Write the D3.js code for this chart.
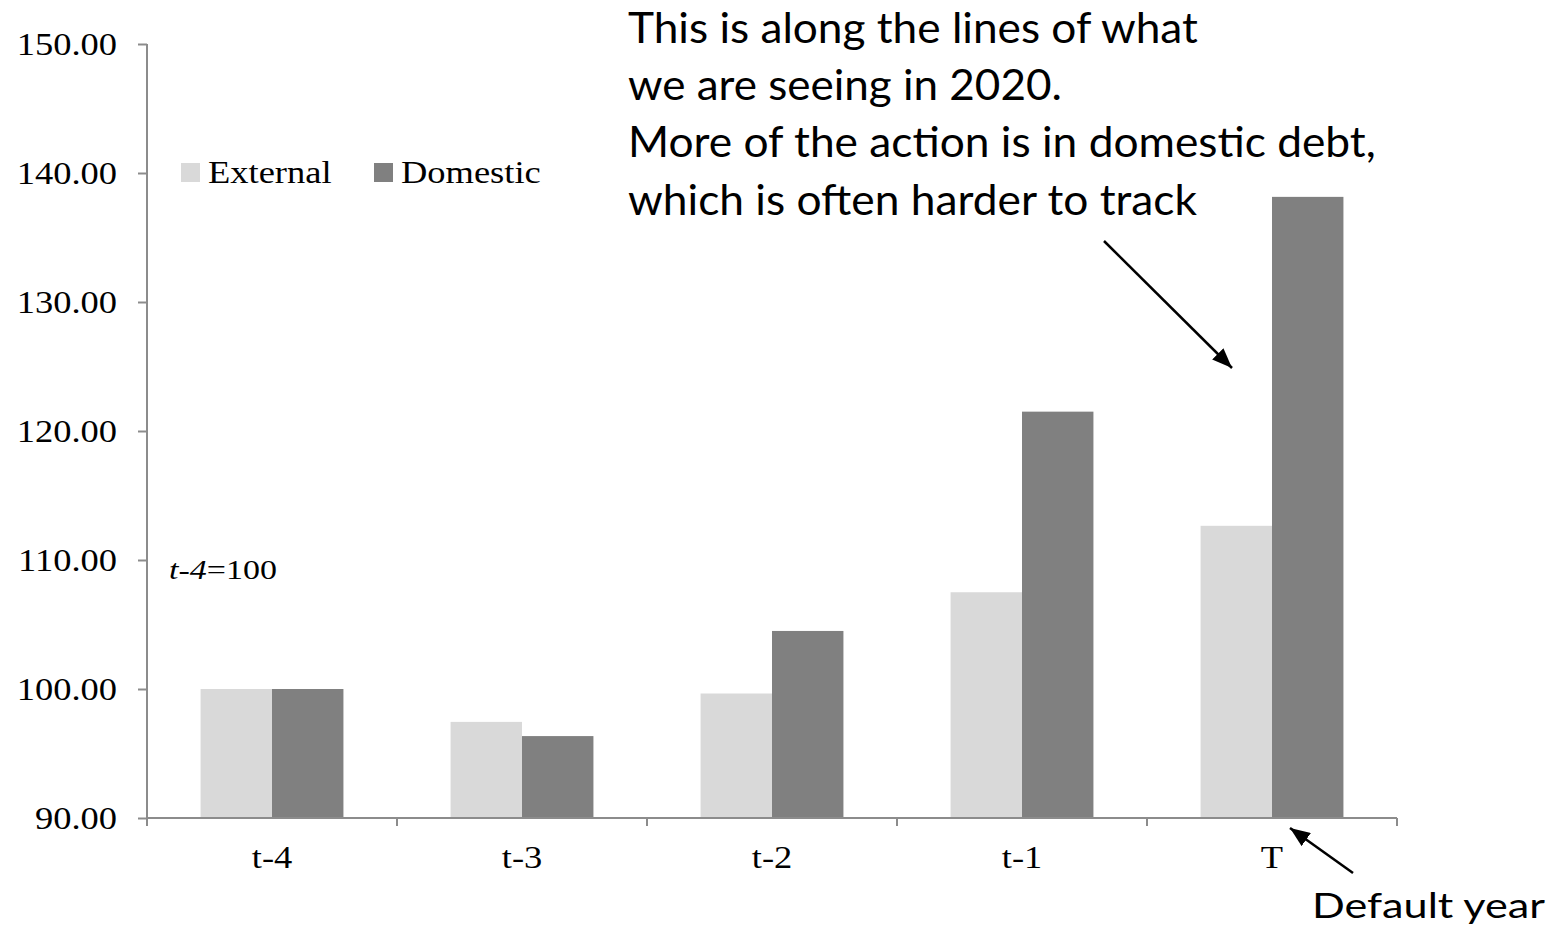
<!DOCTYPE html>
<html><head><meta charset="utf-8">
<script src="https://cdn.jsdelivr.net/npm/d3@7"></script>
<style>body{margin:0;background:#fff} svg{display:block}</style>
</head><body><svg id="c" width="1560" height="928"></svg>
<script>
// ---- data ----
const categories = ["t-4", "t-3", "t-2", "t-1", "T"];
const seriesNames = ["External", "Domestic"];
const externalValues = [100.00, 97.45, 99.65, 107.50, 112.65];
const domesticValues = [100.00, 96.35, 104.50, 121.50, 138.15];
const yTickValues = [90, 100, 110, 120, 130, 140, 150];
const noteLines = [
  "This is along the lines of what",
  "we are seeing in 2020.",
  "More of the action is in domestic debt,",
  "which is often harder to track"
];
const baseNote = ["t-4", "=100"];
const defaultNote = "Default year";

(function () {
// ---- styles / layout ----
const seriesColors = ["#d9d9d9", "#808080"];
const axisColor = "#8c8c8c";
const serif = "'Liberation Serif','Times New Roman',serif";
const sans = "Lato,'Open Sans',sans-serif";
const SX = 1.14; // horizontal stretch of the original picture

const svg = d3.select("#c");
const defs = svg.append("defs");
defs.append("marker").attr("id", "ah")
  .attr("markerUnits", "userSpaceOnUse")
  .attr("viewBox", "0 0 20 16").attr("markerWidth", 20).attr("markerHeight", 16)
  .attr("refX", 20).attr("refY", 8).attr("orient", "auto")
  .append("path").attr("d", "M0,0 L20,8 L0,16 Z").attr("fill", "#000");

const pL = 147, pR = 1397, pT = 44, pB = 818;
const x = d3.scaleBand().domain(categories).range([pL, pR]).paddingInner(0).paddingOuter(0);
const x1 = d3.scaleBand().domain(seriesNames).range([0, x.bandwidth()]).paddingInner(0).paddingOuter(0.75);
const y = d3.scaleLinear().domain([90, 150]).range([pB, pT]);

const rows = categories.map((c, i) => ({cat: c, vals: [externalValues[i], domesticValues[i]]}));

// bars
const g = svg.append("g");
rows.forEach(r => {
  r.vals.forEach((v, j) => {
    g.append("rect")
      .attr("x", x(r.cat) + x1(seriesNames[j]))
      .attr("width", x1.bandwidth())
      .attr("y", y(v))
      .attr("height", y(90) - y(v))
      .attr("fill", seriesColors[j]);
  });
});

function stretchText(t, sx) {
  const tx = +t.attr("x") || 0, ty = +t.attr("y") || 0;
  t.attr("x", 0).attr("y", 0).attr("transform", `translate(${tx},${ty}) scale(${sx},1)`);
}

// y axis
const yAxis = svg.append("g").attr("transform", `translate(${pL},0)`)
  .call(d3.axisLeft(y).tickValues(yTickValues).tickFormat(d3.format(".2f")).tickSize(9).tickPadding(21));
yAxis.select(".domain").attr("stroke", axisColor).attr("stroke-width", 2).attr("d", `M0,${pT}V${pB + 8}`);
yAxis.selectAll(".tick line").attr("stroke", axisColor).attr("stroke-width", 2);
yAxis.selectAll(".tick text")
  .attr("font-family", serif).attr("font-size", 32).attr("fill", "#000").attr("dy", "0.34em")
  .each(function () {
    const t = d3.select(this);
    t.attr("transform", `translate(${t.attr("x")},0) scale(${SX},1)`).attr("x", 0);
  });

// x axis (ticks at band boundaries)
const xAxis = svg.append("g");
xAxis.append("line").attr("x1", pL).attr("x2", pR).attr("y1", pB).attr("y2", pB)
  .attr("stroke", axisColor).attr("stroke-width", 2);
const boundaries = categories.map(c => x(c)).concat([x.range()[1]]);
xAxis.selectAll("line.tk").data(boundaries).join("line").attr("class", "tk")
  .attr("x1", d => d).attr("x2", d => d).attr("y1", pB).attr("y2", pB + 8)
  .attr("stroke", axisColor).attr("stroke-width", 2);
xAxis.selectAll("text").data(categories).join("text")
  .attr("x", d => x(d) + x.bandwidth() / 2).attr("y", pB + 50)
  .attr("text-anchor", "middle").attr("font-family", serif).attr("font-size", 32).attr("fill", "#000")
  .text(d => d)
  .each(function () { stretchText(d3.select(this), SX); });

// legend
const legX = [181, 374];
seriesNames.forEach((s, j) => {
  svg.append("rect").attr("x", legX[j]).attr("y", 163).attr("width", 19).attr("height", 19).attr("fill", seriesColors[j]);
  const t = svg.append("text").attr("x", legX[j] + 27).attr("y", 183)
    .attr("font-family", serif).attr("font-size", 32).attr("fill", "#000").text(s);
  stretchText(t, SX);
});

function fitText(t, x0, y0, w) {
  const nat = t.node().getComputedTextLength();
  t.attr("x", 0).attr("y", 0).attr("transform", `translate(${x0},${y0}) scale(${w / nat},1)`);
}

// base note "t-4=100"
const bn = svg.append("text").attr("font-family", serif).attr("font-size", 27).attr("fill", "#000");
bn.append("tspan").attr("font-style", "italic").text(baseNote[0]);
bn.append("tspan").text(baseNote[1]);
fitText(bn, 169, 579, 108);

// annotation
const noteWidths = [570, 434, 748, 569];
const noteBase = [43, 100, 157, 215];
noteLines.forEach((l, i) => {
  const t = svg.append("text").attr("font-family", sans).attr("font-size", 42).attr("fill", "#000").text(l);
  fitText(t, 628, noteBase[i], noteWidths[i]);
});
const dn = svg.append("text").attr("font-family", sans).attr("font-size", 35).attr("fill", "#000").text(defaultNote);
fitText(dn, 1312, 918, 233);

// arrows
svg.append("line").attr("x1", 1104).attr("y1", 241).attr("x2", 1232).attr("y2", 368)
  .attr("stroke", "#000").attr("stroke-width", 2.5).attr("marker-end", "url(#ah)");
svg.append("line").attr("x1", 1353).attr("y1", 873).attr("x2", 1290).attr("y2", 828)
  .attr("stroke", "#000").attr("stroke-width", 2.5).attr("marker-end", "url(#ah)");
})();
</script>
</body></html>
